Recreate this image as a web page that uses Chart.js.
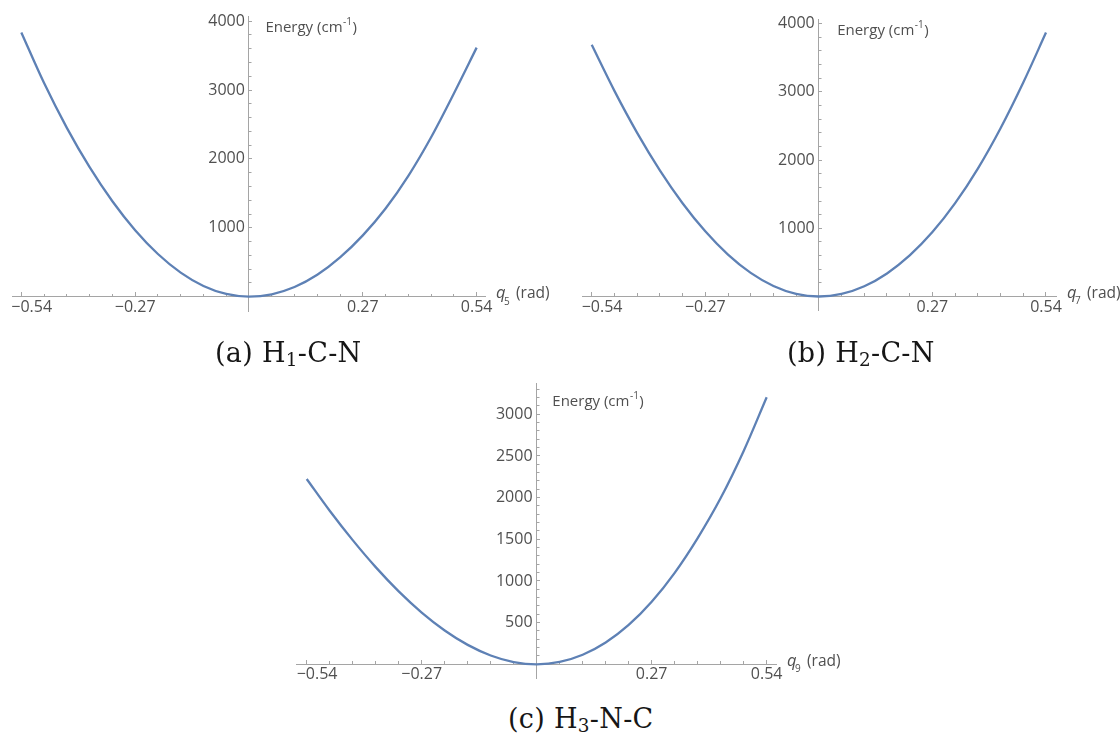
<!DOCTYPE html>
<html>
<head>
<meta charset="utf-8">
<script src="https://cdn.jsdelivr.net/npm/chart.js@4.4.1/dist/chart.umd.min.js"></script>
<style>
  html, body { margin: 0; padding: 0; background: #fff; }
  body { position: relative; width: 1120px; height: 737px; overflow: hidden; }
  canvas { position: absolute; }
  .cap { position: absolute; font-family: "DejaVu Serif", serif; font-size: 27px; line-height: 27px;
         letter-spacing: 0.3px; color: #161616; white-space: nowrap; }
  .cap sub { font-size: 0.68em; vertical-align: -0.22em; line-height: 0; }
</style>
</head>
<body>
<canvas id="panelA" width="560" height="330" style="left:0px;top:0px"></canvas>
<canvas id="panelB" width="560" height="330" style="left:560px;top:0px"></canvas>
<canvas id="panelC" width="580" height="330" style="left:280px;top:370px"></canvas>
<script>
// Bending displacement grid (rad), shared by the three scans
const qValues = [-0.54, -0.486, -0.432, -0.378, -0.324, -0.27, -0.216, -0.162, -0.108, -0.054, 0,
                 0.054, 0.108, 0.162, 0.216, 0.27, 0.324, 0.378, 0.432, 0.486, 0.54];

// Potential energy along each coordinate (cm^-1)
const energyH1CN = [3835, 3100, 2450, 1880, 1385, 965, 620, 350, 156, 40, 0,
                    35, 140, 318, 570, 890, 1280, 1755, 2315, 2950, 3615];
const energyH2CN = [3690, 3015, 2400, 1850, 1368, 956, 614, 346, 154, 38, 0,
                    38, 150, 338, 602, 944, 1368, 1876, 2468, 3138, 3870];
const energyH3NC = [2224, 1843, 1490, 1166, 875, 621, 406, 233, 106, 27, 0,
                    28, 114, 261, 472, 750, 1098, 1515, 1995, 2560, 3205];

// Tick positions and labels
const xMajorTicks = [-0.54, -0.27, 0.27, 0.54];
const xMajorLabels = ['\u2212' + '0.54', '\u2212' + '0.27', '0.27', '0.54'];
const xMinorTicks = [-0.486, -0.432, -0.378, -0.324, -0.216, -0.162, -0.108, -0.054,
                     0.054, 0.108, 0.162, 0.216, 0.324, 0.378, 0.432, 0.486];
const yMajorTicksAB = [1000, 2000, 3000, 4000];
const yMinorTicksAB = [200, 400, 600, 800, 1200, 1400, 1600, 1800, 2200, 2400, 2600, 2800,
                       3200, 3400, 3600, 3800];
const yMajorTicksC = [500, 1000, 1500, 2000, 2500, 3000];
const yMinorTicksC = [100, 200, 300, 400, 600, 700, 800, 900, 1100, 1200, 1300, 1400,
                      1600, 1700, 1800, 1900, 2100, 2200, 2300, 2400, 2600, 2700, 2800, 2900,
                      3100, 3200, 3300];

// Panel captions and coordinate indices
const captionTags = ['(a)', '(b)', '(c)'];
const captionAtoms = [['H', '1', '-C-N'], ['H', '2', '-C-N'], ['H', '3', '-N-C']];
const coordIndex = ['5', '7', '9'];

const CURVE = '#5E81B5';
const AXIS = '#a5a5a5';
const TEXT = '#505050';
const FONT = '"Open Sans", "DejaVu Sans", sans-serif';

Chart.defaults.font.family = FONT;

function setTicks(values) {
  return scale => { scale.ticks = values.map(v => ({ value: v })); };
}
function collapse(scale) {
  if (scale.isHorizontal()) scale.height = 0; else scale.width = 0;
  scale.paddingLeft = scale.paddingRight = scale.paddingTop = scale.paddingBottom = 0;
}

// Axis titles drawn next to the crossing axes
const axisTitles = {
  id: 'axisTitles',
  afterDraw(chart, _args, o) {
    const { ctx, chartArea, scales } = chart;
    const ax = scales.x.getPixelForValue(0);
    const ay = scales.y.getPixelForValue(0);
    const body = '15px ' + FONT;
    const small = '10px ' + FONT;
    ctx.save();
    ctx.fillStyle = TEXT;
    ctx.textAlign = 'left';
    ctx.textBaseline = 'alphabetic';

    let x = ax + o.energyDx;
    const yb = chartArea.top + o.energyDy;
    ctx.font = body;
    ctx.fillText('Energy (cm', x, yb);
    x += ctx.measureText('Energy (cm').width + 0.5;
    ctx.font = small;
    ctx.fillText('-1', x, yb - 7);
    x += ctx.measureText('-1').width + 0.5;
    ctx.font = body;
    ctx.fillText(')', x, yb);

    const qx = chartArea.right + 11;
    const qb = ay + 1.5;
    ctx.font = 'italic 16.5px ' + FONT;
    ctx.fillText('q', qx, qb);
    ctx.font = small;
    ctx.fillText(o.sub, qx + 8, qb + 6.5);
    ctx.font = '15.5px ' + FONT;
    ctx.fillText('(rad)', qx + 20, qb);
    ctx.restore();
  }
};

function makePanel(p) {
  const points = qValues.map((q, i) => ({ x: q, y: p.energy[i] }));
  const tickFont = { family: FONT, size: 16 };
  return new Chart(document.getElementById(p.canvas), {
    type: 'scatter',
    data: {
      datasets: [{
        data: points,
        showLine: true,
        borderColor: CURVE,
        borderWidth: 2.3,
        pointRadius: 0,
        cubicInterpolationMode: 'monotone',
        fill: false
      }]
    },
    plugins: [axisTitles],
    options: {
      responsive: false,
      animation: false,
      events: [],
      layout: { padding: p.pad },
      plugins: {
        legend: { display: false },
        tooltip: { enabled: false },
        axisTitles: { energyDx: p.energyDx, energyDy: p.energyDy, sub: p.sub }
      },
      scales: {
        x: {
          type: 'linear', min: p.xRange[0], max: p.xRange[1], position: { y: 0 },
          afterBuildTicks: setTicks(xMajorTicks), afterFit: collapse,
          border: { display: true, color: AXIS, width: 1 },
          grid: { drawOnChartArea: false, drawTicks: true, tickLength: -5, tickColor: AXIS, tickWidth: 1 },
          ticks: {
            color: TEXT, font: tickFont, padding: 6, autoSkip: false, maxRotation: 0,
            callback: v => {
              const i = xMajorTicks.indexOf(v);
              const s = i >= 0 ? xMajorLabels[i] : '';
              return i === 0 ? '     ' + s : s;
            }
          }
        },
        xMinor: {
          type: 'linear', axis: 'x', min: p.xRange[0], max: p.xRange[1], position: { y: 0 },
          afterBuildTicks: setTicks(xMinorTicks), afterFit: collapse,
          border: { display: false },
          grid: { drawOnChartArea: false, drawTicks: true, tickLength: -3, tickColor: AXIS, tickWidth: 1 },
          ticks: { display: false }
        },
        y: {
          type: 'linear', min: p.yRange[0], max: p.yRange[1], position: { x: 0 },
          afterBuildTicks: setTicks(p.yMajor), afterFit: collapse,
          border: { display: true, color: AXIS, width: 1 },
          grid: { drawOnChartArea: false, drawTicks: true, tickLength: -4, tickColor: AXIS, tickWidth: 1 },
          ticks: { color: TEXT, font: tickFont, autoSkip: false, callback: v => v + ' ' }
        },
        yMinor: {
          type: 'linear', axis: 'y', min: p.yRange[0], max: p.yRange[1], position: { x: 0 },
          afterBuildTicks: setTicks(p.yMinor), afterFit: collapse,
          border: { display: false },
          grid: { drawOnChartArea: false, drawTicks: true, tickLength: -2.5, tickColor: AXIS, tickWidth: 1 },
          ticks: { display: false }
        }
      }
    }
  });
}

const panels = [
  { canvas: 'panelA', energy: energyH1CN, sub: coordIndex[0],
    xRange: [-0.5621, 0.5598], yRange: [-218, 4064], yMajor: yMajorTicksAB, yMinor: yMinorTicksAB,
    pad: { left: 12, top: 16.7, right: 75, bottom: 18.3 }, energyDx: 16.4, energyDy: 15.5 },
  { canvas: 'panelB', energy: energyH2CN, sub: coordIndex[1],
    xRange: [-0.5624, 0.5638], yRange: [-198, 4069], yMajor: yMajorTicksAB, yMinor: yMinorTicksAB,
    pad: { left: 22.3, top: 19, right: 64, bottom: 20 }, energyDx: 18.3, energyDy: 15.5 },
  { canvas: 'panelC', energy: energyH3NC, sub: coordIndex[2],
    xRange: [-0.5635, 0.5619], yRange: [-168, 3372], yMajor: yMajorTicksC, yMinor: yMinorTicksC,
    pad: { left: 16.7, top: 13.3, right: 84, bottom: 21.7 }, energyDx: 15.6, energyDy: 22.7 }
];
panels.forEach(makePanel);

// Sub-figure captions
const captionPos = [[215, 339], [787, 339], [508, 705]];
captionTags.forEach((tag, i) => {
  const d = document.createElement('div');
  d.className = 'cap';
  d.style.left = captionPos[i][0] + 'px';
  d.style.top = captionPos[i][1] + 'px';
  const [atom, idx, rest] = captionAtoms[i];
  d.innerHTML = tag + ' ' + atom + '<sub>' + idx + '</sub>' + rest;
  document.body.appendChild(d);
});
</script>
</body>
</html>
